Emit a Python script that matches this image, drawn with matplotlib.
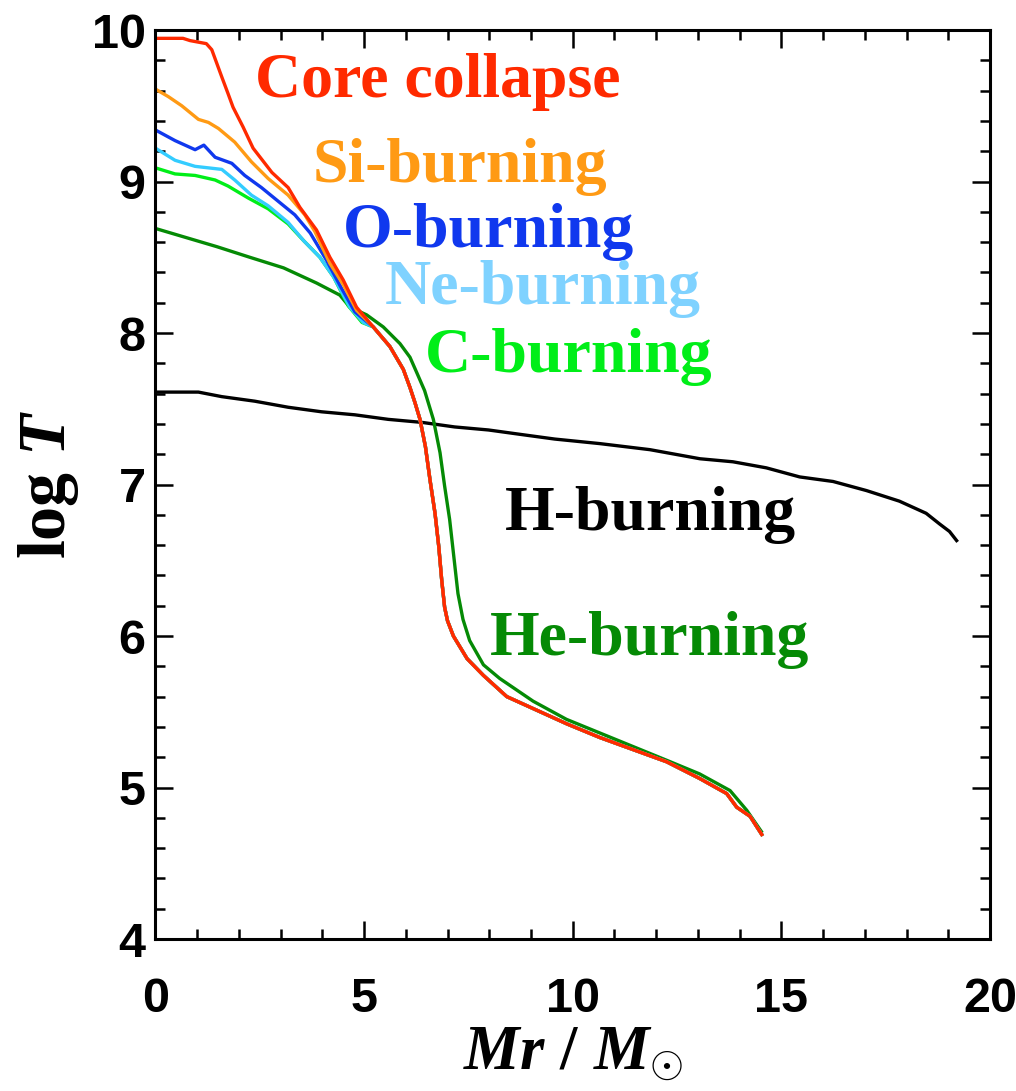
import matplotlib
matplotlib.use('Agg')
import numpy as np
import matplotlib.pyplot as plt
from matplotlib.ticker import MultipleLocator

plt.rcParams['font.family'] = 'Liberation Sans'
plt.rcParams['font.weight'] = 'bold'
plt.rcParams['mathtext.fontset'] = 'custom'
plt.rcParams['mathtext.rm'] = 'Liberation Serif:bold'
plt.rcParams['mathtext.it'] = 'Liberation Serif:italic:bold'
plt.rcParams['mathtext.bf'] = 'Liberation Serif:bold'

# --- data (Mr in Msun, log T) ---
# H-burning profile
h_mr = [0.0, 1.03, 1.59, 2.38, 3.18, 3.98, 4.78, 5.58, 6.39, 7.17, 7.98, 8.77,
        9.57, 10.65, 11.85, 13.05, 13.84, 14.64, 15.44, 16.24, 17.04, 17.83,
        18.47, 18.79, 19.03, 19.2]
h_logt = [7.61, 7.61, 7.58, 7.55, 7.51, 7.48, 7.46, 7.43, 7.41, 7.38, 7.36, 7.33,
          7.30, 7.27, 7.23, 7.17, 7.15, 7.11, 7.05, 7.02, 6.96, 6.89,
          6.81, 6.74, 6.69, 6.63]

# He-burning profile
he_mr = [0.0, 1.47, 2.26, 3.07, 3.86, 4.42, 4.66, 5.06, 5.46, 5.86, 6.1, 6.26, 6.45,
         6.66, 6.82, 6.93, 7.05, 7.14, 7.25, 7.37, 7.53, 7.86, 8.25, 9.05, 9.85,
         10.65, 11.45, 12.25, 13.04, 13.77, 14.17, 14.52]
he_logt = [8.69, 8.57, 8.50, 8.43, 8.33, 8.25, 8.17, 8.12, 8.04, 7.93, 7.84, 7.74, 7.62,
           7.43, 7.21, 6.99, 6.77, 6.55, 6.28, 6.11, 5.97, 5.81, 5.72, 5.57, 5.45,
           5.36, 5.27, 5.18, 5.09, 4.98, 4.85, 4.71]

# inner parts of the later stages
c_mr = [0.0, 0.47, 0.95, 1.43, 1.74, 2.23, 2.7, 3.18, 3.55, 3.94, 4.27, 4.62, 4.95]
c_logt = [9.09, 9.05, 9.04, 9.01, 8.97, 8.89, 8.82, 8.72, 8.61, 8.50, 8.37, 8.18, 8.07]

ne_mr = [0.0, 0.47, 0.95, 1.59, 1.9, 2.3, 2.7, 3.18, 3.55, 3.94, 4.27, 4.66, 4.98]
ne_logt = [9.22, 9.14, 9.10, 9.08, 9.01, 8.91, 8.84, 8.73, 8.61, 8.50, 8.37, 8.17, 8.07]

o_mr = [0.0, 0.47, 0.95, 1.16, 1.43, 1.83, 2.14, 2.54, 2.94, 3.34, 3.71, 4.1, 4.45, 4.78]
o_logt = [9.34, 9.27, 9.21, 9.24, 9.16, 9.12, 9.04, 8.96, 8.87, 8.78, 8.66, 8.48, 8.30, 8.14]

si_mr = [0.0, 0.31, 0.63, 1.03, 1.27, 1.51, 1.9, 2.3, 2.7, 3.18, 3.58, 3.82, 4.18, 4.5, 4.82]
si_logt = [9.61, 9.56, 9.50, 9.41, 9.39, 9.35, 9.26, 9.13, 9.02, 8.91, 8.78, 8.67, 8.46,
           8.32, 8.15]

cc_mr = [0.0, 0.66, 0.83, 1.22, 1.35, 1.47, 1.59, 1.74, 1.86, 2.1, 2.34, 2.79, 3.18,
         3.46, 3.86, 4.18, 4.5, 4.82]
cc_logt = [9.945, 9.945, 9.93, 9.91, 9.87, 9.78, 9.69, 9.58, 9.49, 9.36, 9.22, 9.06, 8.96,
           8.83, 8.68, 8.50, 8.35, 8.17]

# common outer envelope of the late stages
tail_mr = [5.22, 5.62, 5.94, 6.1, 6.22, 6.34, 6.47, 6.58, 6.7, 6.79, 6.86, 6.93,
           7.0, 7.14, 7.47, 7.86, 8.42, 9.06, 9.86, 10.65, 11.45, 12.25, 13.04, 13.69,
           13.93, 14.25, 14.53]
tail_logt = [8.04, 7.91, 7.76, 7.64, 7.54, 7.43, 7.25, 7.03, 6.81, 6.59, 6.37, 6.19,
             6.10, 6.00, 5.85, 5.74, 5.60, 5.52, 5.42, 5.33, 5.25, 5.17, 5.06, 4.96,
             4.87, 4.81, 4.69]

labels = ['Core collapse', 'Si-burning', 'O-burning', 'Ne-burning', 'C-burning',
          'H-burning', 'He-burning']
label_x = [2.38, 3.77, 4.49, 5.50, 6.46, 8.37, 8.01]
label_y = [9.56, 9.0, 8.57, 8.19, 7.74, 6.70, 5.875]
label_colors = ['#ff2a00', '#ff9a14', '#1038ee', '#7fd2ff', '#00ee18', 'black', '#058a05']

fig = plt.figure(figsize=(10.16, 10.91), dpi=100)
ax = fig.add_axes([0.153, 0.1393, 0.8214, 0.8332])

lw = 2.4
ax.plot(h_mr, h_logt, color='black', lw=lw)
ax.plot(he_mr, he_logt, color='#058a05', lw=lw)
ax.plot(c_mr + tail_mr, c_logt + tail_logt, color='#00ee18', lw=lw)
ax.plot(ne_mr + tail_mr, ne_logt + tail_logt, color='#33ccff', lw=lw)
ax.plot(o_mr + tail_mr, o_logt + tail_logt, color='#1038ee', lw=lw)
ax.plot(si_mr + tail_mr, si_logt + tail_logt, color='#ff9a14', lw=lw)
ax.plot(cc_mr + tail_mr, cc_logt + tail_logt, color='#ff2a00', lw=lw)

for txt, x, y, c in zip(labels, label_x, label_y, label_colors):
    ax.text(x, y, txt, color=c, family='Liberation Serif', weight='bold',
            fontsize=46, ha='left', va='baseline')

ax.set_xlim(0, 20)
ax.set_ylim(4, 10)
ax.xaxis.set_major_locator(MultipleLocator(5))
ax.xaxis.set_minor_locator(MultipleLocator(1))
ax.yaxis.set_major_locator(MultipleLocator(1))
ax.yaxis.set_minor_locator(MultipleLocator(0.2))
ax.tick_params(which='both', direction='in', top=True, right=True, width=1.8,
               labelsize=35)
ax.tick_params(which='major', length=13)
ax.tick_params(which='minor', length=7)
ax.tick_params(axis='x', pad=27)
ax.tick_params(axis='y', pad=7)
for s in ax.spines.values():
    s.set_linewidth(2.2)

ax.set_xlabel(r'$Mr\ /\ M_{\odot}$', fontsize=45, labelpad=2)
ax.set_ylabel(r'log $T$', family='Liberation Serif', weight='bold',
              fontsize=49, labelpad=8)

fig.savefig('out.png', dpi=100)
